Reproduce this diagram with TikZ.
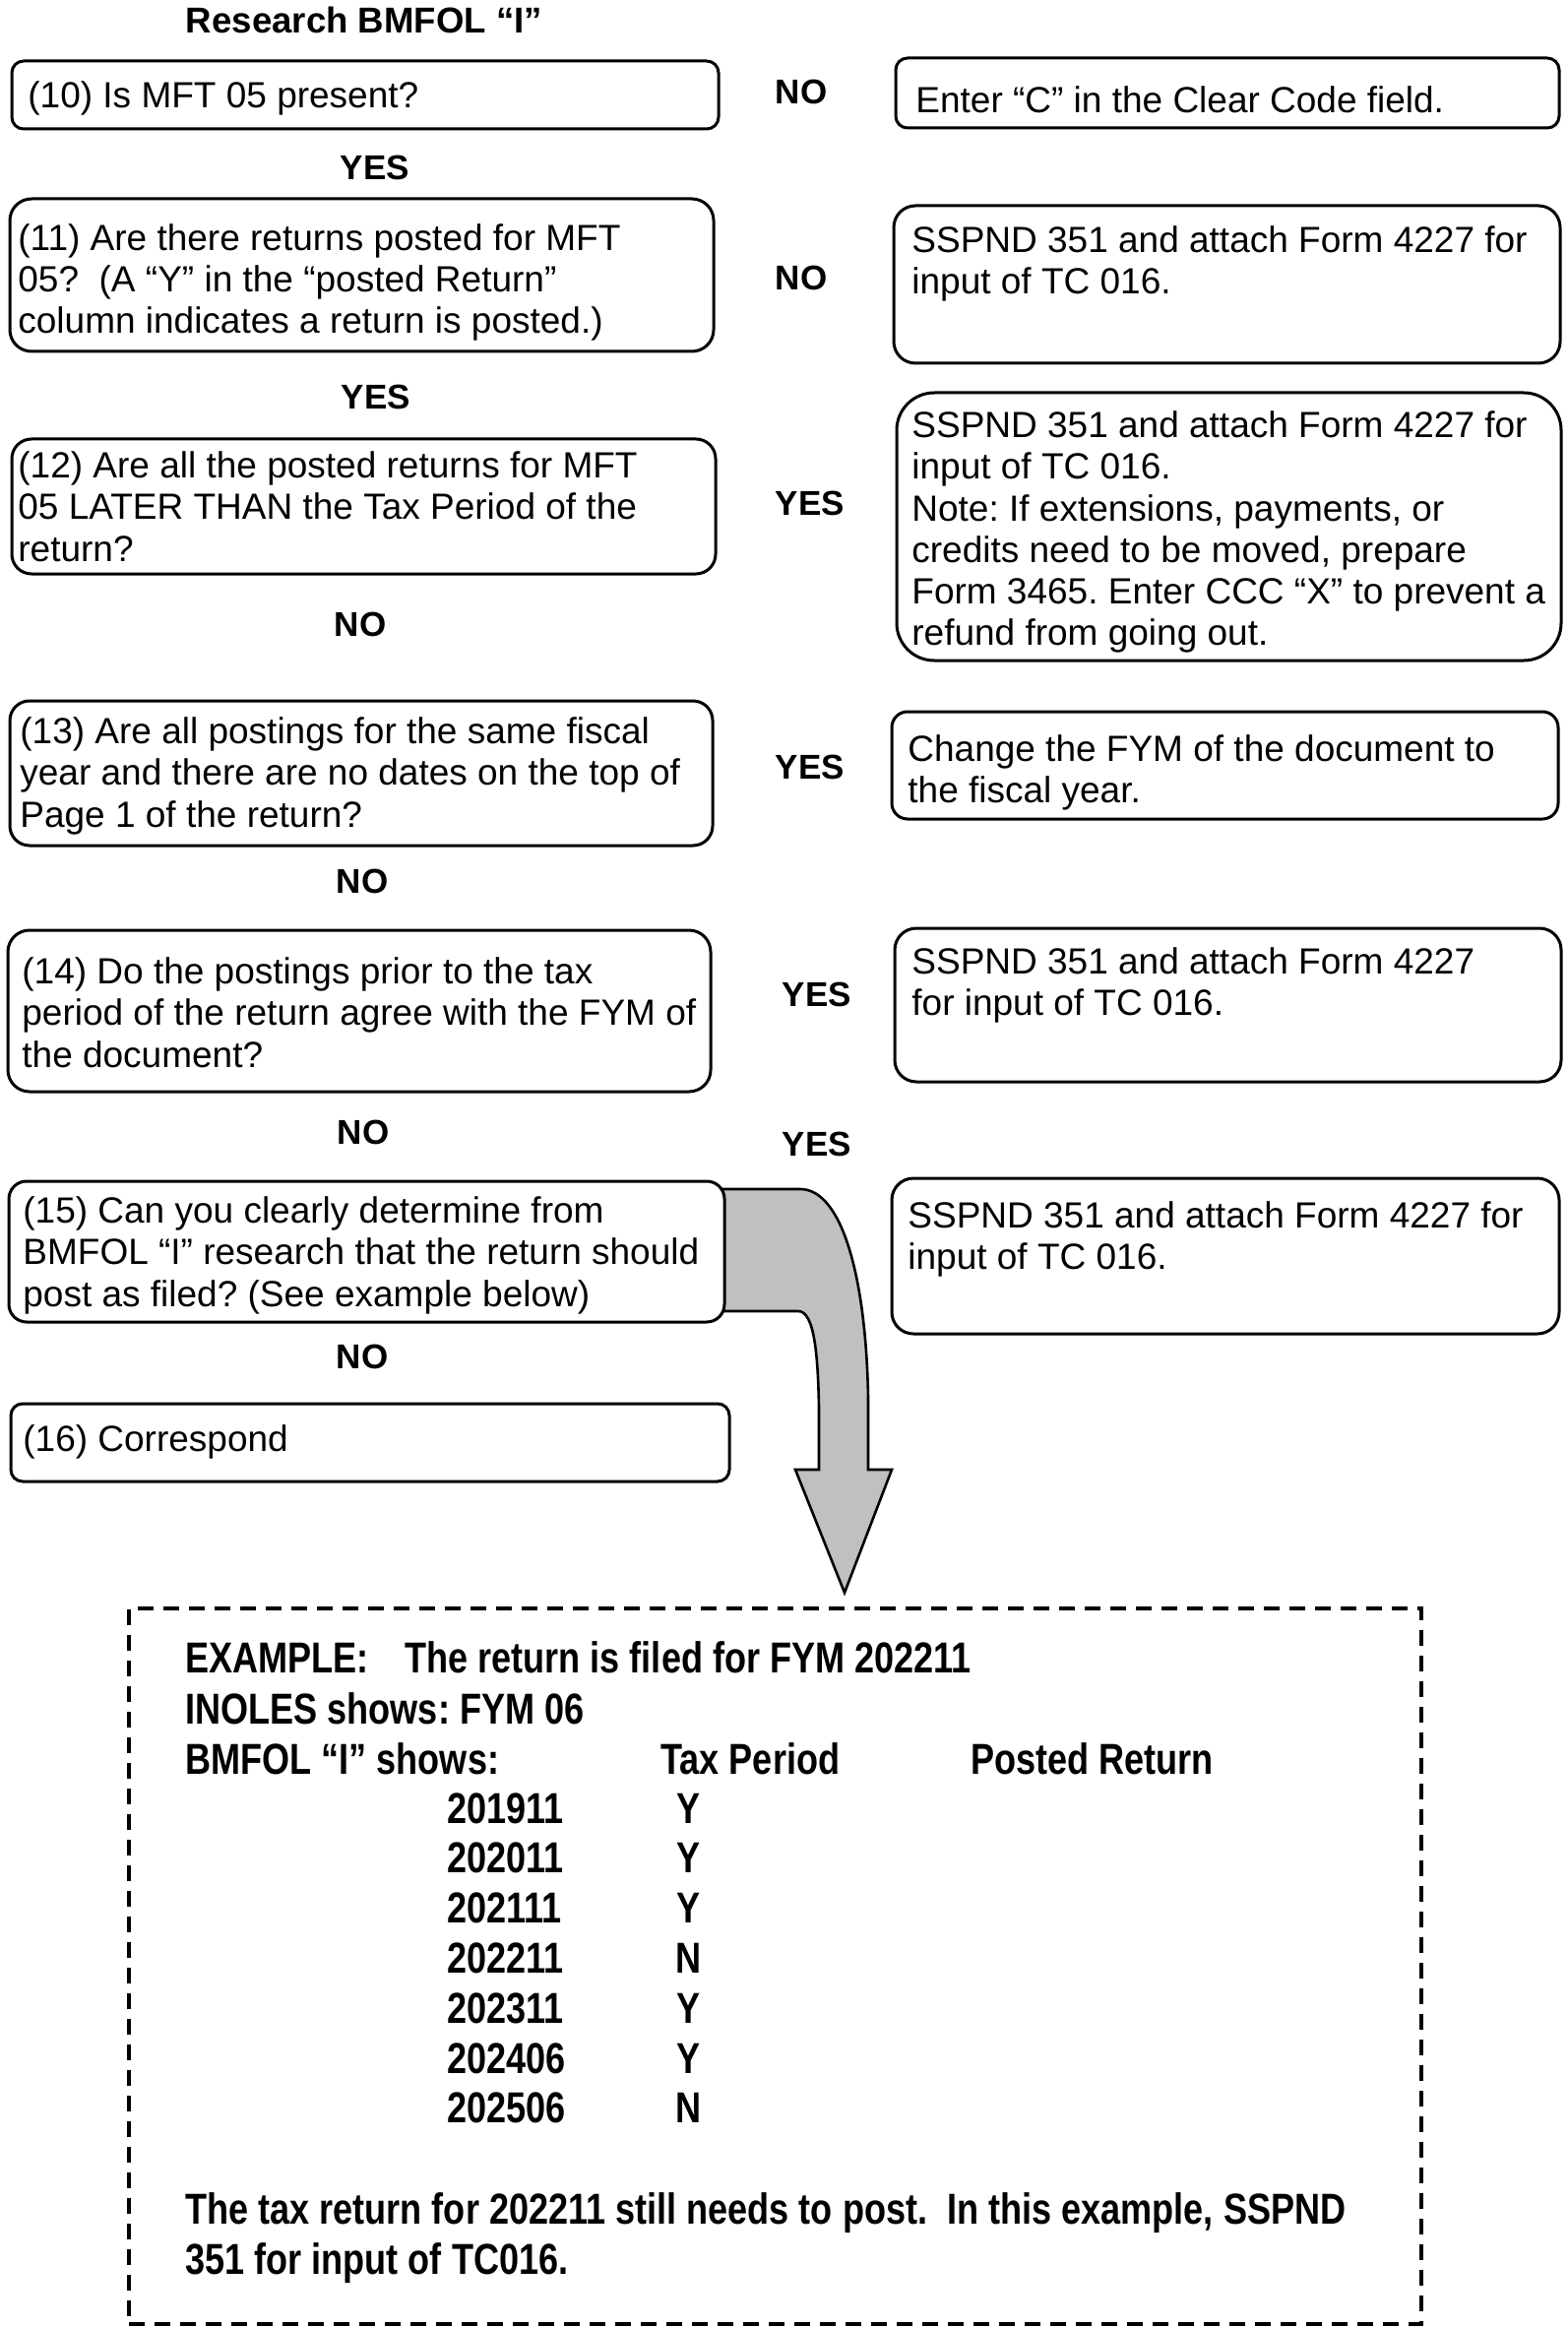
\documentclass[tikz,border=0pt]{standalone}
\usepackage{fontspec}
\setmainfont{Liberation Sans}
\newfontfamily\narrowfont{Liberation Sans}[FakeStretch=0.82]
\definecolor{arrowgray}{RGB}{192,192,192}
\newcommand\mystrutA{\rule{0pt}{14pt}}
\frenchspacing
\tikzset{
 box/.style={draw, line width=1.5pt, fill=white, inner sep=0pt, rectangle},
 txt/.style={anchor=north west, inner sep=0pt, align=left, font=\fontsize{18.5pt}{21.15pt}\selectfont\frenchspacing},
 lab/.style={inner sep=0pt, font=\fontsize{17.5pt}{21pt}\selectfont\bfseries},
 ttl/.style={inner sep=0pt, font=\fontsize{18.3pt}{22pt}\selectfont\bfseries},
 ex/.style={anchor=base west, inner sep=0pt, font=\fontsize{22pt}{25.4pt}\selectfont\narrowfont\bfseries\frenchspacing},
 exc/.style={ex, anchor=base},
 bigarrow/.style={draw, line width=1.3pt, fill=arrowgray, line join=miter},
 exbox/.style={draw, line width=2.2pt, dash pattern=on 8pt off 5pt, inner sep=0pt, rectangle}
}
\begin{document}
\begin{tikzpicture}[x=0.5pt,y=-0.5pt]
\path[use as bounding box, fill=white] (0,0) rectangle (1593,2364);

% title
\node[ttl] (title) at (370,20) {Research BMFOL “I”};

% big arrow (drawn first, box 15 covers its start)
\coordinate (arrtip) at (858,1618);
\draw[bigarrow] (720,1208) -- (813,1208) .. controls (856,1208) and (880,1300) .. (882,1420)
  -- (882,1493) -- (906,1493) -- (arrtip) -- (808,1493) -- (832,1493) -- (832,1430)
  .. controls (831,1380) and (828,1332) .. (811,1332) -- (720,1332) -- cycle;

% left boxes
\node[box, minimum width=359pt, minimum height=34.5pt, rounded corners=6pt] (b10) at (371,96.5) {};
\node[box, minimum width=357.5pt, minimum height=77.5pt, rounded corners=11pt] (b11) at (367.5,279.5) {};
\node[box, minimum width=357.5pt, minimum height=68.5pt, rounded corners=10pt] (b12) at (369.5,514.5) {};
\node[box, minimum width=357pt, minimum height=73.5pt, rounded corners=10pt] (b13) at (367,785.5) {};
\node[box, minimum width=357pt, minimum height=82pt, rounded corners=11pt] (b14) at (365,1027) {};
\node[box, minimum width=363.5pt, minimum height=71.5pt, rounded corners=9pt] (b15) at (372.5,1271.5) {};
\node[box, minimum width=365pt, minimum height=39.5pt, rounded corners=6pt] (b16) at (376,1465.5) {};

% right boxes
\node[box, minimum width=337pt, minimum height=35.5pt, rounded corners=6pt] (r10) at (1247,94.5) {};
\node[box, minimum width=338.5pt, minimum height=80pt, rounded corners=11pt] (r11) at (1246.5,289) {};
\node[box, minimum width=337.5pt, minimum height=136pt, rounded corners=19pt] (r12) at (1248.5,535) {};
\node[box, minimum width=338.5pt, minimum height=54.5pt, rounded corners=8pt] (r13) at (1244.5,777.5) {};
\node[box, minimum width=338.5pt, minimum height=78pt, rounded corners=11pt] (r14) at (1247.5,1021) {};
\node[box, minimum width=339pt, minimum height=79pt, rounded corners=11pt] (r15) at (1245,1276) {};

% left texts
\node[txt] (t10) at (28,81) {\mystrutA(10) Is MFT 05 present?};
\node[txt] (t11) at (18,226) {\mystrutA(11) Are there returns posted for MFT\\05?~ (A “Y” in the “posted Return”\\column indicates a return is posted.)};
\node[txt] (t12) at (18,457) {\mystrutA(12) Are all the posted returns for MFT\\05 LATER THAN the Tax Period of the\\return?};
\node[txt] (t13) at (20,727) {\mystrutA(13) Are all postings for the same fiscal\\year and there are no dates on the top of\\Page 1 of the return?};
\node[txt] (t14) at (22,971) {\mystrutA(14) Do the postings prior to the tax\\period of the return agree with the FYM of\\the document?};
\node[txt] (t15) at (23,1214) {\mystrutA(15) Can you clearly determine from\\BMFOL “I” research that the return should\\post as filed? (See example below)};
\node[txt] (t16) at (23,1446) {\mystrutA(16) Correspond};

% right texts
\node[txt] (tr10) at (930,86) {\mystrutA Enter “C” in the Clear Code field.};
\node[txt] (tr11) at (926,228) {\mystrutA SSPND 351 and attach Form 4227 for\\input of TC 016.};
\node[txt] (tr12) at (926,416) {\mystrutA SSPND 351 and attach Form 4227 for\\input of TC 016.\\Note: If extensions, payments, or\\credits need to be moved, prepare\\Form 3465. Enter CCC “X” to prevent a\\refund from going out.};
\node[txt] (tr13) at (922,745) {\mystrutA Change the FYM of the document to\\the fiscal year.};
\node[txt] (tr14) at (926,961) {\mystrutA SSPND 351 and attach Form 4227\\for input of TC 016.};
\node[txt] (tr15) at (922,1219) {\mystrutA SSPND 351 and attach Form 4227 for\\input of TC 016.};

% YES / NO labels
\node[lab] (no1) at (814,93) {NO};
\node[lab] (yes1) at (381,170) {YES};
\node[lab] (no2) at (814,282) {NO};
\node[lab] (yes2) at (382,403) {YES};
\node[lab] (yes3) at (823,511) {YES};
\node[lab] (no3) at (366,634) {NO};
\node[lab] (yes4) at (823,779) {YES};
\node[lab] (no4) at (368,895) {NO};
\node[lab] (yes5) at (830,1010) {YES};
\node[lab] (no5) at (369,1150) {NO};
\node[lab] (yes6) at (830,1162) {YES};
\node[lab] (no6) at (368,1378) {NO};

% example box
\node[exbox, minimum width=656.5pt, minimum height=363.5pt] (exbox) at (787.5,1997.5) {};
\node[ex] (e1a) at (188,1699) {EXAMPLE:};
\node[ex] (e1b) at (411,1699) {The return is filed for FYM 202211};
\node[ex] (e2) at (188,1751) {INOLES shows: FYM 06};
\node[ex] (e3) at (188,1802) {BMFOL “I” shows:};
\node[ex] (e3b) at (671,1802) {Tax Period};
\node[ex] (e3c) at (986,1802) {Posted Return};
\foreach \v/\m [count=\i] in {201911/Y,202011/Y,202111/Y,202211/N,202311/Y,202406/Y,202506/N}{
  \node[ex] (yr\i) at (454,{1852+(\i-1)*50.8}) {\v};
  \node[exc] (pr\i) at (700,{1852+(\i-1)*50.8}) {\m};
}
\node[ex] (e4) at (188,2259) {The tax return for 202211 still needs to post.\ \ In this example, SSPND};
\node[ex] (e5) at (188,2310) {351 for input of TC016.};
\end{tikzpicture}
\end{document}
